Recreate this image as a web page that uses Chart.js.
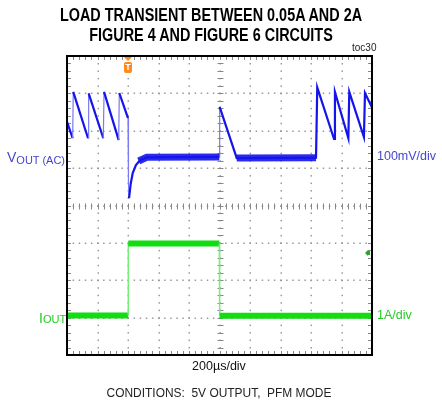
<!DOCTYPE html>
<html>
<head>
<meta charset="utf-8">
<script src="https://cdn.jsdelivr.net/npm/chart.js@4"></script>
<style>
  body { margin: 0; background: #fff; }
  #wrap { position: relative; width: 442px; height: 404px; font-family: "Liberation Sans", Arial, sans-serif; }
  #wrap canvas { position: absolute; left: 0; top: 0; }
  .t { position: absolute; white-space: nowrap; line-height: 1; }
  .title { font-weight: bold; font-size: 18px; left: 0; width: 422px; text-align: center; color: #000; transform: scaleX(0.8); transform-origin: 211px 0; }
  .blue { color: #4646d2; }
  .green { color: #22cc22; }
  .big { font-size: 14px; }
  .sub { font-size: 11px; position: relative; top: 2px; }
</style>
</head>
<body>
<div id="wrap">
  <canvas id="scope" width="442" height="404"></canvas>
  <div class="t title" style="top:6px;">LOAD TRANSIENT BETWEEN 0.05A AND 2A</div>
  <div class="t title" style="top:26px;">FIGURE 4 AND FIGURE 6 CIRCUITS</div>
  <div class="t" style="left:352px; top:43px; font-size:10px; color:#222;">toc30</div>
  <div class="t blue" style="left:7px; top:149px;"><span class="big">V</span><span class="sub">OUT (AC)</span></div>
  <div class="t blue" style="left:377px; top:150px; font-size:12.5px;">100mV/div</div>
  <div class="t green" style="left:39px; top:310px;"><span class="big">I</span><span class="sub" style="top:0">OUT</span></div>
  <div class="t green" style="left:377px; top:309px; font-size:12.5px;">1A/div</div>
  <div class="t" style="left:0; width:438px; text-align:center; top:360px; font-size:12.5px; color:#111;">200µs/div</div>
  <div class="t" style="left:0; width:438px; text-align:center; top:387px; font-size:12.5px; color:#222; transform: scaleX(0.955); transform-origin: 219px 0;">CONDITIONS:&nbsp; 5V OUTPUT,&nbsp; PFM MODE</div>
</div>
<script>
// time base: 200us/div, 10 divisions
const timeMin = 0, timeMax = 2000;
// VOUT(AC): 100mV/div, 8 divisions
const voutMin = -400, voutMax = 400;
// IOUT: 1A/div
const ioutMin = -1, ioutMax = 7;

// VOUT (AC) trace (us, mV)
const voutTime = [0, 37, 41, 138, 142, 238, 243, 339, 343, 400, 403, 407, 418, 431, 452, 479, 523, 999, 1001, 1113, 1633, 1641, 1751, 1757, 1845, 1851, 1947, 1954, 2000];
const voutMv   = [224, 180, 304, 180, 300, 180, 304, 175, 301, 234, 60, 20, 59, 87, 108, 121, 129, 130, 264, 127, 128, 316, 178, 304, 180, 304, 183, 301, 262];

// noisy flat parts of VOUT (drawn as a thick band)
const voutNoiseTime = [470, 523, 999, null, 1113, 1633];
const voutNoiseMv   = [119, 129, 130, null, 127, 128];

// IOUT trace (us, A)
const ioutTime = [0, 400, 402, 999, 1001, 2000];
const ioutAmp  = [0.06, 0.06, 1.98, 1.98, 0.05, 0.05];

// trigger markers
const trigTime = 400;
const trigLevelAmp = 1.73;

const toPts = (xs, ys) => xs.map((x, i) => ({ x: x, y: ys[i] }));

const scopeGrid = {
  id: 'scopeGrid',
  beforeDatasetsDraw(chart) {
    const ctx = chart.ctx;
    const xs = chart.scales.x, ys = chart.scales.yv;
    const { left, right, top, bottom } = chart.chartArea;
    ctx.save();
    ctx.fillStyle = '#9a9a9a';
    // dotted major lines
    for (let t = timeMin + 200; t < timeMax; t += 200) {
      const px = Math.round(xs.getPixelForValue(t));
      for (let v = voutMin; v <= voutMax; v += 20) {
        ctx.fillRect(px - 0.5, ys.getPixelForValue(v) - 0.5, 1.5, 1.5);
      }
    }
    for (let v = voutMin + 100; v < voutMax; v += 100) {
      const py = Math.round(ys.getPixelForValue(v));
      for (let t = timeMin; t <= timeMax; t += 40) {
        ctx.fillRect(xs.getPixelForValue(t) - 0.5, py - 0.5, 1.5, 1.5);
      }
    }
    // center cross and border ticks
    ctx.strokeStyle = '#888';
    ctx.lineWidth = 1;
    ctx.beginPath();
    const cx = Math.round(xs.getPixelForValue(1000)) + 0.5;
    const cy = Math.round(ys.getPixelForValue(0)) + 0.5;
    for (let v = voutMin; v <= voutMax; v += 20) {
      const py = Math.round(ys.getPixelForValue(v)) + 0.5;
      ctx.moveTo(cx - 3, py); ctx.lineTo(cx + 3, py);
      ctx.moveTo(left, py); ctx.lineTo(left + 4, py);
      ctx.moveTo(right - 4, py); ctx.lineTo(right, py);
    }
    for (let t = timeMin; t <= timeMax; t += 40) {
      const px = Math.round(xs.getPixelForValue(t)) + 0.5;
      ctx.moveTo(px, cy - 3); ctx.lineTo(px, cy + 3);
      ctx.moveTo(px, top); ctx.lineTo(px, top + 4);
      ctx.moveTo(px, bottom - 4); ctx.lineTo(px, bottom);
    }
    ctx.stroke();
    ctx.restore();
  },
  afterDatasetsDraw(chart) {
    const ctx = chart.ctx;
    const xs = chart.scales.x, yi = chart.scales.yi;
    const { left, right, top, bottom } = chart.chartArea;
    ctx.save();
    ctx.strokeStyle = '#000';
    ctx.lineWidth = 2;
    ctx.strokeRect(left, top, right - left, bottom - top);
    // trigger position marker
    const tx = xs.getPixelForValue(trigTime);
    ctx.fillStyle = '#ff8a1c';
    ctx.beginPath();
    ctx.moveTo(tx - 4, top + 1); ctx.lineTo(tx + 4, top + 1); ctx.lineTo(tx, top + 5);
    ctx.fill();
    ctx.beginPath();
    ctx.roundRect(tx - 4, top + 6, 8, 11, 2);
    ctx.fill();
    ctx.fillStyle = '#fff';
    ctx.font = 'bold 9px "Liberation Sans", Arial, sans-serif';
    ctx.textAlign = 'center';
    ctx.textBaseline = 'middle';
    ctx.fillText('T', tx, top + 12);
    // trigger level marker
    const ty = yi.getPixelForValue(trigLevelAmp);
    ctx.fillStyle = '#22aa22';
    ctx.beginPath();
    ctx.moveTo(right - 7, ty); ctx.lineTo(right - 4, ty - 3); ctx.lineTo(right - 4, ty + 3);
    ctx.fill();
    ctx.fillRect(right - 4, ty - 2, 2, 4);
    ctx.restore();
  }
};

const thinIfJump = (wide, thin) => c => (Math.abs(c.p1.parsed.x - c.p0.parsed.x) < 6 ? thin : wide);

new Chart(document.getElementById('scope'), {
  type: 'scatter',
  data: {
    datasets: [
      {
        label: 'IOUT',
        data: toPts(ioutTime, ioutAmp),
        yAxisID: 'yi',
        showLine: true,
        borderColor: '#11dd11',
        borderWidth: 6,
        pointRadius: 0,
        segment: {
          borderWidth: thinIfJump(6, 1.5),
          borderColor: thinIfJump('#11dd11', '#77ee77')
        }
      },
      {
        label: 'VOUT noise',
        data: toPts(voutNoiseTime, voutNoiseMv),
        yAxisID: 'yv',
        showLine: true,
        spanGaps: false,
        borderColor: 'rgba(20,20,235,0.9)',
        borderWidth: 7,
        pointRadius: 0
      },
      {
        label: 'VOUT (AC)',
        data: toPts(voutTime, voutMv),
        yAxisID: 'yv',
        showLine: true,
        borderColor: '#1414eb',
        borderWidth: 2,
        pointRadius: 0,
        segment: {
          borderWidth: thinIfJump(2.2, 1.2),
          borderColor: thinIfJump('#1414eb', '#7a7af5')
        }
      }
    ]
  },
  options: {
    responsive: false,
    animation: false,
    events: [],
    layout: { padding: { left: 67, top: 56, right: 70, bottom: 49 } },
    plugins: { legend: { display: false }, tooltip: { enabled: false } },
    scales: {
      x: { type: 'linear', min: timeMin, max: timeMax, display: false },
      yv: { type: 'linear', min: voutMin, max: voutMax, display: false },
      yi: { type: 'linear', min: ioutMin, max: ioutMax, display: false }
    }
  },
  plugins: [scopeGrid]
});
</script>
</body>
</html>
